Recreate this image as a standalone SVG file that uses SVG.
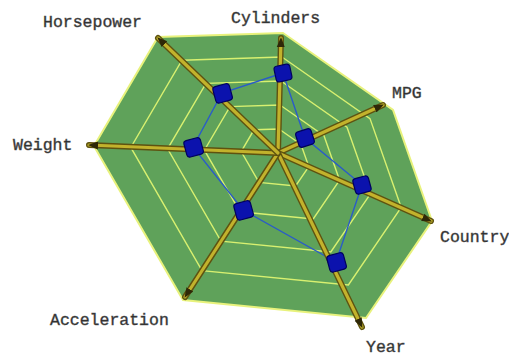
<svg xmlns="http://www.w3.org/2000/svg" width="509" height="356" viewBox="0 0 509 356">
<defs>
<style>
.lbl{font-family:"Liberation Mono","DejaVu Sans Mono",monospace;font-size:16.5px;fill:#2a2a2a;stroke:#555555;stroke-width:0.45px;}
.ring{fill:none;stroke:#d8f070;stroke-width:1.4;}
.rodo{stroke:#5e5210;stroke-width:6;stroke-linecap:round;}
.rodi{stroke:#c2b22c;stroke-width:3.2;stroke-linecap:round;}
.pt{fill:#0b12ad;stroke:#00005e;stroke-width:1.2;}
.data{fill:none;stroke:#2a5cc8;stroke-width:1.4;}
</style>
<marker id="tip" viewBox="0 0 10 10" refX="9" refY="5" markerWidth="10" markerHeight="10" markerUnits="userSpaceOnUse" orient="auto">
<path d="M0,1 L10,5 L0,9 Z" fill="#2e2808"/>
</marker>
</defs>
<rect width="509" height="356" fill="#ffffff"/>
<g id="web">
<polygon points="283,33 393,110 432,221 366,318 183,300 94,146 158,37" fill="#5fa25a" stroke="#e8f27c" stroke-width="2"/>
<polygon class="ring" points="282,57 370,118.6 401.2,207.4 348.4,285 202,270.6 130.8,147.4 182,60.2"/>
<polygon class="ring" points="281,81 347,127.2 370.4,193.8 330.8,252 221,241.2 167.6,148.8 206,83.4"/>
<polygon class="ring" points="280,105 324,135.8 339.6,180.2 313.2,219 240,211.8 204.4,150.2 230,106.6"/>
<polygon class="ring" points="279,129 301,144.4 308.8,166.6 295.6,186 259,182.4 241.2,151.6 254,129.8"/>
</g>
<g id="connectors">
<polygon class="data" points="283,73 305,138 362,185 336,262 243,210 193,147 222,93"/>
</g>
<g id="axis-cylinders">
<line class="rodo" x1="278" y1="153" x2="281" y2="38"/>
<line class="rodi" x1="278" y1="153" x2="281" y2="38" marker-end="url(#tip)"/>
<rect class="pt" x="275" y="65" width="16" height="16" rx="3" transform="rotate(-12 283 73)"/>
<text class="lbl" x="231" y="23">Cylinders</text>
</g>
<g id="axis-mpg">
<line class="rodo" x1="278" y1="153" x2="383" y2="105"/>
<line class="rodi" x1="278" y1="153" x2="383" y2="105" marker-end="url(#tip)"/>
<rect class="pt" x="297" y="130" width="16" height="16" rx="3" transform="rotate(-18 305 138)"/>
<text class="lbl" x="392" y="98">MPG</text>
</g>
<g id="axis-country">
<line class="rodo" x1="278" y1="153" x2="431" y2="221"/>
<line class="rodi" x1="278" y1="153" x2="431" y2="221" marker-end="url(#tip)"/>
<rect class="pt" x="354" y="177" width="16" height="16" rx="3" transform="rotate(-15 362 185)"/>
<text class="lbl" x="440" y="242">Country</text>
</g>
<g id="axis-year">
<line class="rodo" x1="278" y1="153" x2="362" y2="327"/>
<line class="rodi" x1="278" y1="153" x2="362" y2="327" marker-end="url(#tip)"/>
<rect class="pt" x="328" y="254" width="17" height="17" rx="3" transform="rotate(-15 336 262)"/>
<text class="lbl" x="366" y="352">Year</text>
</g>
<g id="axis-acceleration">
<line class="rodo" x1="278" y1="153" x2="185" y2="297"/>
<line class="rodi" x1="278" y1="153" x2="185" y2="297" marker-end="url(#tip)"/>
<rect class="pt" x="235" y="202" width="17" height="17" rx="3" transform="rotate(-15 243 210)"/>
<text class="lbl" x="50" y="325">Acceleration</text>
</g>
<g id="axis-weight">
<line class="rodo" x1="278" y1="153" x2="89" y2="145"/>
<line class="rodi" x1="278" y1="153" x2="89" y2="145" marker-end="url(#tip)"/>
<rect class="pt" x="185" y="139" width="17" height="17" rx="3" transform="rotate(-15 193 147)"/>
<text class="lbl" x="13" y="150">Weight</text>
</g>
<g id="axis-horsepower">
<line class="rodo" x1="278" y1="153" x2="158" y2="38"/>
<line class="rodi" x1="278" y1="153" x2="158" y2="38" marker-end="url(#tip)"/>
<rect class="pt" x="214" y="85" width="17" height="17" rx="3" transform="rotate(-15 222 93)"/>
<text class="lbl" x="43" y="27">Horsepower</text>
</g>
</svg>
